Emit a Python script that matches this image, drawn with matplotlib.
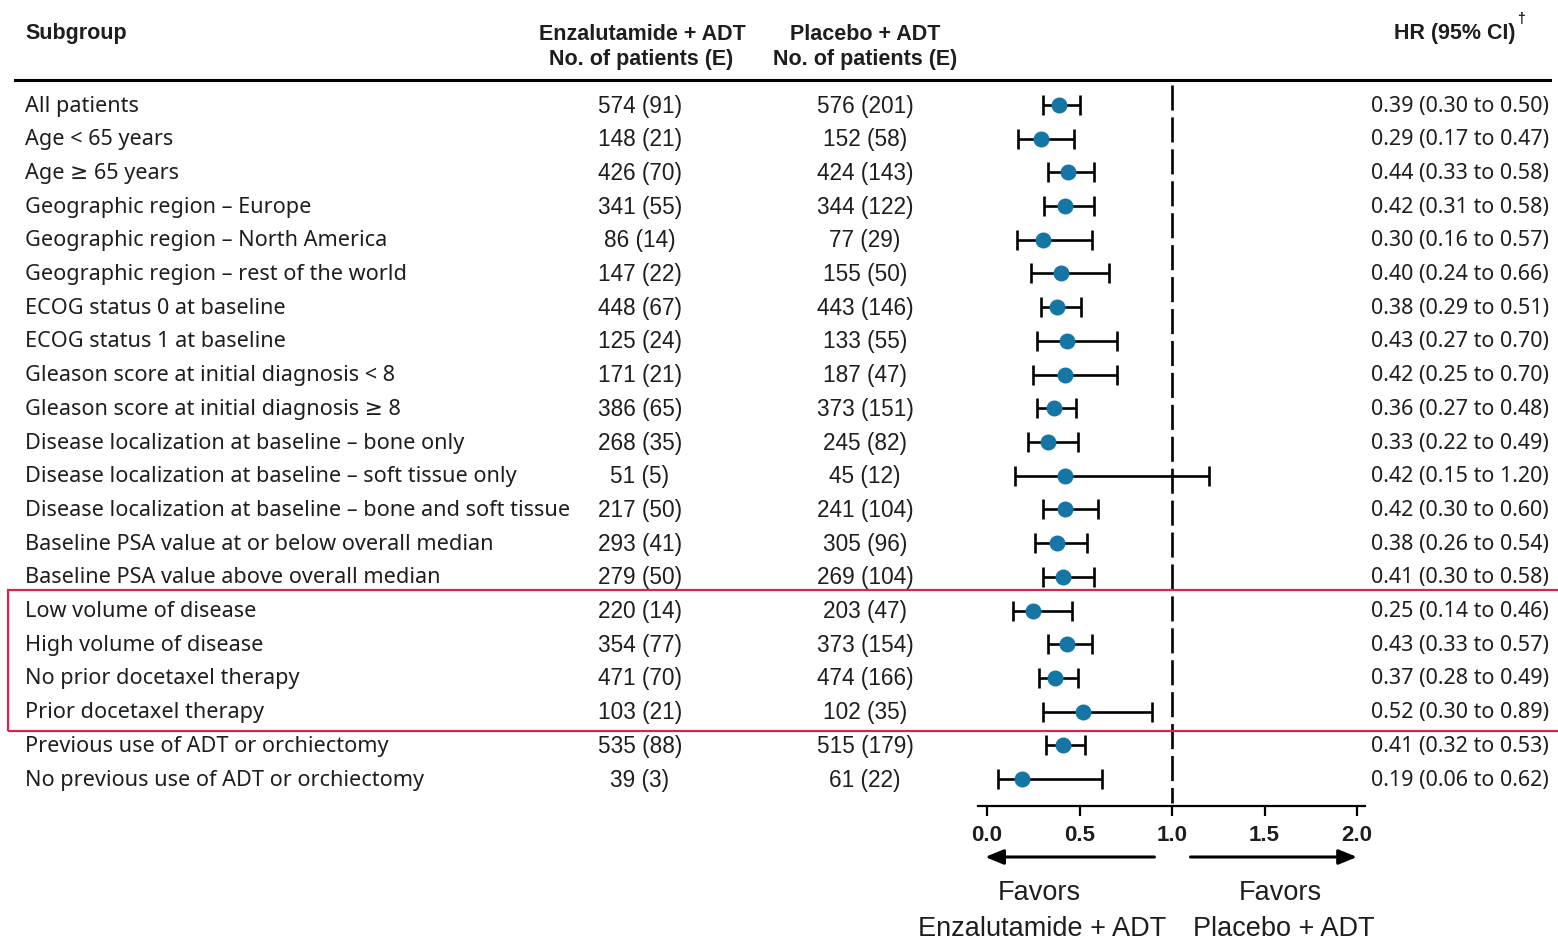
import matplotlib
matplotlib.use("Agg")
import matplotlib.pyplot as plt
import matplotlib.transforms as mtransforms
from matplotlib.patches import Rectangle
from matplotlib.lines import Line2D

# ---------------- data ----------------
subgroups = [
    "All patients",
    "Age < 65 years",
    "Age \u2265 65 years",
    "Geographic region \u2013 Europe",
    "Geographic region \u2013 North America",
    "Geographic region \u2013 rest of the world",
    "ECOG status 0 at baseline",
    "ECOG status 1 at baseline",
    "Gleason score at initial diagnosis < 8",
    "Gleason score at initial diagnosis \u2265 8",
    "Disease localization at baseline \u2013 bone only",
    "Disease localization at baseline \u2013 soft tissue only",
    "Disease localization at baseline \u2013 bone and soft tissue",
    "Baseline PSA value at or below overall median",
    "Baseline PSA value above overall median",
    "Low volume of disease",
    "High volume of disease",
    "No prior docetaxel therapy",
    "Prior docetaxel therapy",
    "Previous use of ADT or orchiectomy",
    "No previous use of ADT or orchiectomy",
]
enz_n = [574, 148, 426, 341, 86, 147, 448, 125, 171, 386, 268, 51, 217, 293, 279, 220, 354, 471, 103, 535, 39]
enz_e = [91, 21, 70, 55, 14, 22, 67, 24, 21, 65, 35, 5, 50, 41, 50, 14, 77, 70, 21, 88, 3]
pla_n = [576, 152, 424, 344, 77, 155, 443, 133, 187, 373, 245, 45, 241, 305, 269, 203, 373, 474, 102, 515, 61]
pla_e = [201, 58, 143, 122, 29, 50, 146, 55, 47, 151, 82, 12, 104, 96, 104, 47, 154, 166, 35, 179, 22]
hr = [0.39, 0.29, 0.44, 0.42, 0.30, 0.40, 0.38, 0.43, 0.42, 0.36, 0.33, 0.42, 0.42, 0.38, 0.41, 0.25, 0.43, 0.37, 0.52, 0.41, 0.19]
ci_lo = [0.30, 0.17, 0.33, 0.31, 0.16, 0.24, 0.29, 0.27, 0.25, 0.27, 0.22, 0.15, 0.30, 0.26, 0.30, 0.14, 0.33, 0.28, 0.30, 0.32, 0.06]
ci_hi = [0.50, 0.47, 0.58, 0.58, 0.57, 0.66, 0.51, 0.70, 0.70, 0.48, 0.49, 1.20, 0.60, 0.54, 0.58, 0.46, 0.57, 0.49, 0.89, 0.53, 0.62]
highlight_rows = [15, 16, 17, 18]
xticks = [0.0, 0.5, 1.0, 1.5, 2.0]

# ---------------- layout ----------------
W, H = 1558, 943
fig = plt.figure(figsize=(W / 100, H / 100), dpi=100)
fig.patch.set_facecolor("white")

def fx(px):
    return px / W

def fy(py):
    return 1 - py / H

x0px, unit = 987.0, 185.0          # pixel of HR=0 and pixels per HR unit
ax_left, ax_right = 978.0, 1365.0
ax_top, ax_bot = 80.0, 806.0
row0, dy = 105.0, 33.7

ax = fig.add_axes([fx(ax_left), fy(ax_bot), fx(ax_right - ax_left), (ax_bot - ax_top) / H])
ax.set_xlim((ax_left - x0px) / unit, (ax_right - x0px) / unit)
ax.set_ylim((ax_bot - row0) / dy, (ax_top - row0) / dy)
ax.patch.set_alpha(0)

n = len(subgroups)
ys = list(range(n))

TXT = "#1e1e1e"
BLUE = "#1576a6"
RED = "#d9234b"
SANS = ["Liberation Sans", "DejaVu Sans"]
WIDE = ["Noto Sans", "DejaVu Sans"]

# reference line at HR = 1
ax.plot([1, 1], [-0.6, 20.7], color="black", lw=1.9, linestyle=(0, (9.5, 2.6)),
        solid_capstyle="butt", dash_capstyle="butt", zorder=1)

# CIs and points
xerr = [[h - l for h, l in zip(hr, ci_lo)], [u - h for h, u in zip(hr, ci_hi)]]
ax.errorbar(hr, ys, xerr=xerr, fmt="none", ecolor="black", elinewidth=1.9,
            capsize=7.5, capthick=1.9, zorder=2)
ax.plot(hr, ys, "o", color=BLUE, markersize=11.5, markeredgewidth=0, zorder=3)

# axis styling
for s in ["top", "left", "right"]:
    ax.spines[s].set_visible(False)
ax.spines["bottom"].set_linewidth(1.6)
ax.set_yticks([])
ax.set_xticks(xticks)
ax.set_xticklabels([f"{t:.1f}" for t in xticks], fontsize=16, fontweight="bold",
                   family=SANS, color=TXT)
ax.tick_params(axis="x", direction="out", length=7, width=1.6, pad=7, colors="black",
               labelcolor=TXT)

# text columns (x in figure, y in row units)
trans = mtransforms.blended_transform_factory(fig.transFigure, ax.transData)
toff = 0.03
for i in range(n):
    yt = i + toff
    fig.text(fx(25), yt, subgroups[i], transform=trans, ha="left", va="center",
             fontsize=15.6, family=WIDE, color=TXT)
    fig.text(fx(640), yt, f"{enz_n[i]} ({enz_e[i]})", transform=trans, ha="center",
             va="center", fontsize=16.3, family=SANS, color=TXT)
    fig.text(fx(865), yt, f"{pla_n[i]} ({pla_e[i]})", transform=trans, ha="center",
             va="center", fontsize=16.3, family=SANS, color=TXT)
    fig.text(fx(1549), yt, f"{hr[i]:.2f} ({ci_lo[i]:.2f} to {ci_hi[i]:.2f})", transform=trans,
             ha="right", va="center", fontsize=15.5, family=WIDE, color=TXT)

# headers
hdr = dict(fontsize=15.5, fontweight="bold", family=SANS, color=TXT, va="center")
fig.text(fx(25), fy(34), "Subgroup", ha="left", **hdr)
fig.text(fx(642), fy(34), "Enzalutamide + ADT", ha="center", **hdr)
fig.text(fx(641), fy(59), "No. of patients (E)", ha="center", **hdr)
fig.text(fx(865), fy(34), "Placebo + ADT", ha="center", **hdr)
fig.text(fx(865), fy(59), "No. of patients (E)", ha="center", **hdr)
fig.text(fx(1515), fy(34), "HR (95% CI)", ha="right", **hdr)
fig.text(fx(1517), fy(19), "\u2020", ha="left", fontsize=10, fontweight="bold",
         family=SANS, color=TXT, va="center")

# header rule
fig.add_artist(Line2D([fx(15), fx(1550)], [fy(80), fy(80)], transform=fig.transFigure,
                      color="black", lw=2.2))

# highlight box
top_i, bot_i = min(highlight_rows), max(highlight_rows)
y_top = top_i - (row0 + top_i * dy - 590) / dy
y_bot = bot_i + (731 - (row0 + bot_i * dy)) / dy
fig.add_artist(Rectangle((fx(8), y_bot), fx(1562) - fx(8), y_top - y_bot, transform=trans,
                         fill=False, edgecolor=RED, lw=1.6, clip_on=False))

# arrows and favour labels
atr = mtransforms.blended_transform_factory(ax.transData, fig.transFigure)
arrow_kw = dict(arrowstyle="-|>,head_length=1.1,head_width=0.45", color="black", lw=2.2,
                shrinkA=0, shrinkB=0)
ax.annotate("", xy=(-0.01, fy(857)), xytext=(0.905, fy(857)), xycoords=atr, textcoords=atr,
            arrowprops=arrow_kw, annotation_clip=False)
ax.annotate("", xy=(2.0, fy(857)), xytext=(1.10, fy(857)), xycoords=atr, textcoords=atr,
            arrowprops=arrow_kw, annotation_clip=False)
fav = dict(fontsize=19.5, family=SANS, color=TXT, ha="center", va="center", transform=atr)
ax.text(0.285, fy(893), "Favors", **fav)
ax.text(0.30, fy(929), "Enzalutamide + ADT", **fav)
ax.text(1.585, fy(893), "Favors", **fav)
ax.text(1.605, fy(929), "Placebo + ADT", **fav)

fig.savefig("out.png", dpi=100, facecolor="white")
